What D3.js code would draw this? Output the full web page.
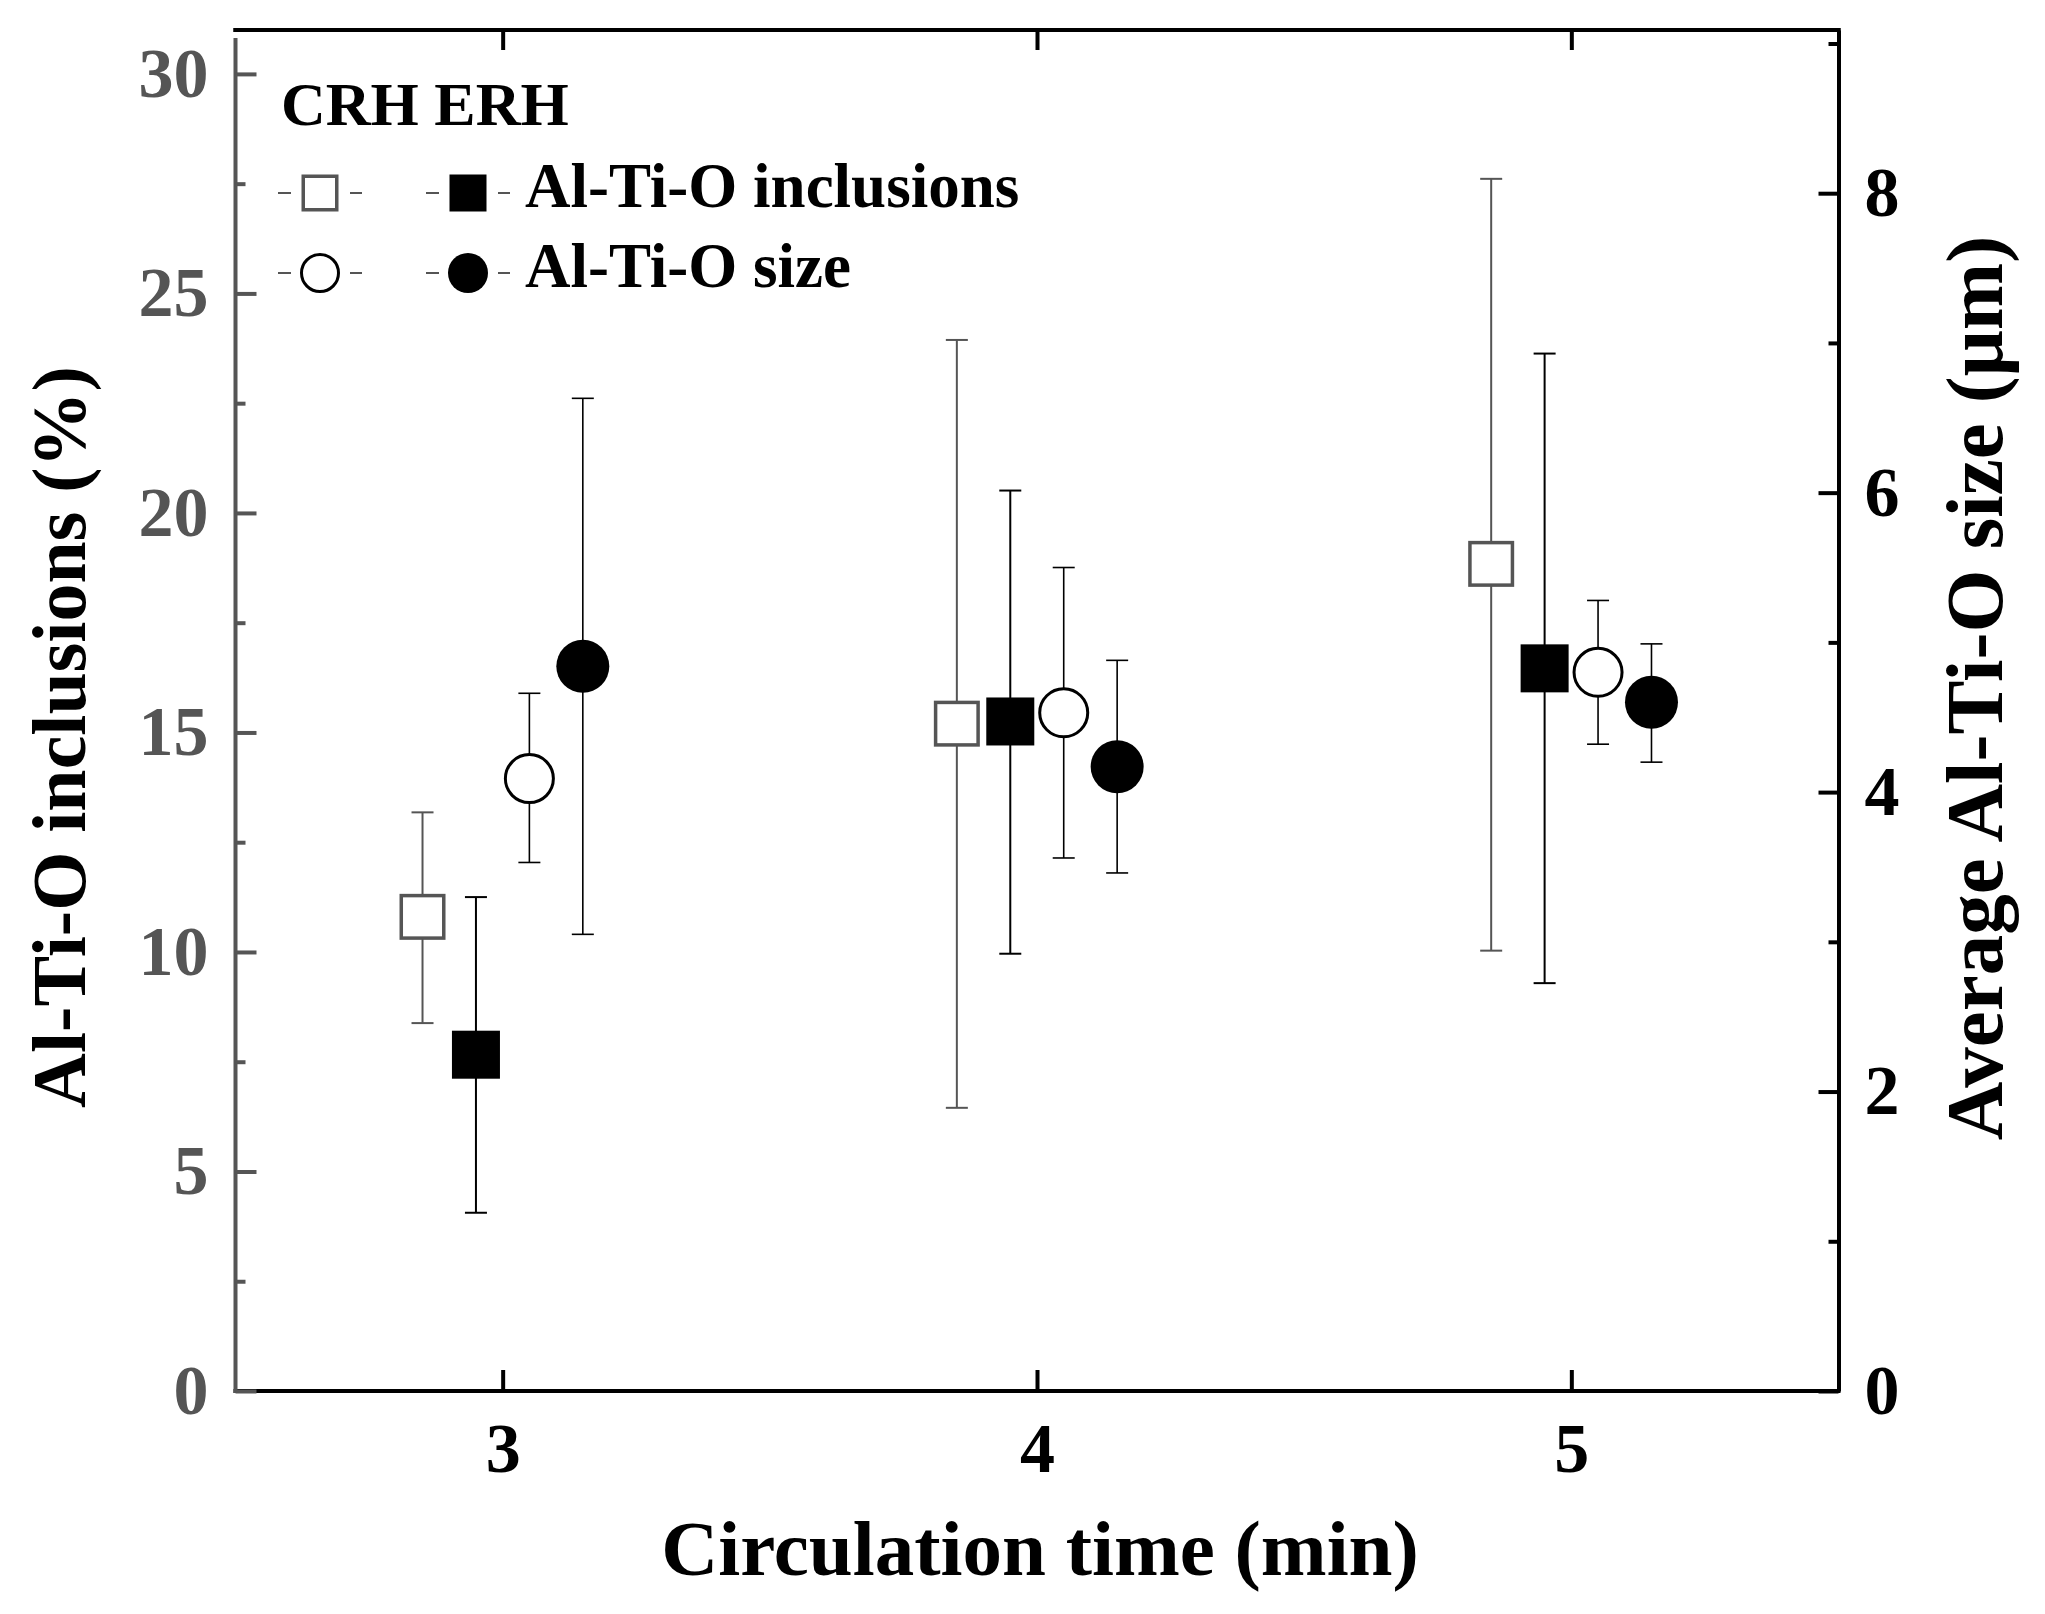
<!DOCTYPE html>
<html>
<head>
<meta charset="utf-8">
<script src="https://cdnjs.cloudflare.com/ajax/libs/d3/7.8.5/d3.min.js"></script>
<style>
  body { margin: 0; background: #fff; }
  text { font-family: "Liberation Serif", "Times New Roman", serif; font-weight: bold; }
</style>
</head>
<body>
<div id="chart"></div>
<script>
// Circulation time (min)
const times = [3, 4, 5];

// Al-Ti-O inclusions (%) - left axis
const crhIncl     = [10.80, 15.20, 18.84];
const crhInclLow  = [8.38, 6.45, 10.03];
const crhInclHigh = [13.18, 23.94, 27.61];
const erhIncl     = [7.66, 15.25, 16.46];
const erhInclLow  = [4.06, 9.96, 9.29];
const erhInclHigh = [11.25, 20.51, 23.63];

// Average Al-Ti-O size (um) - right axis
const crhSize     = [4.09, 4.53, 4.80];
const crhSizeLow  = [3.53, 3.56, 4.32];
const crhSizeHigh = [4.66, 5.50, 5.28];
const erhSize     = [4.84, 4.17, 4.60];
const erhSizeLow  = [3.05, 3.46, 4.20];
const erhSizeHigh = [6.63, 4.88, 4.99];

// Tick labels
const xTicks = [3, 4, 5];
const leftTicks = [0, 5, 10, 15, 20, 25, 30];
const leftMinor = [2.5, 7.5, 12.5, 17.5, 22.5, 27.5];
const rightTicks = [0, 2, 4, 6, 8];
const rightMinor = [1, 3, 5, 7, 9];

const W = 2045, H = 1614;
const margin = {top: 30, right: W - 1838.5, bottom: H - 1391, left: 235.5};
const width = W - margin.left - margin.right;
const height = H - margin.top - margin.bottom;
const GRAY = '#555';

const svg = d3.select('#chart').append('svg')
    .attr('width', W).attr('height', H)
    .attr('viewBox', `0 0 ${W} ${H}`);

const g = svg.append('g')
    .attr('transform', `translate(${margin.left},${margin.top})`);

// Scales
const x = d3.scaleLinear().domain([2.5, 5.5]).range([0, width]);
const yL = d3.scaleLinear().domain([0, 31]).range([height, 0]);
const yR = d3.scaleLinear().domain([0, 9.09]).range([height, 0]);

// Series setup (offsets keep the four markers side by side)
const series = [
    {val: crhIncl, lo: crhInclLow, hi: crhInclHigh, y: yL, off: -0.15, shape: 'square', fill: '#fff', stroke: GRAY, sw: 3.5, size: 46, err: GRAY, ew: 2},
    {val: erhIncl, lo: erhInclLow, hi: erhInclHigh, y: yL, off: -0.05, shape: 'square', fill: '#000', stroke: '#000', sw: 0, size: 48, err: '#000', ew: 2},
    {val: crhSize, lo: crhSizeLow, hi: crhSizeHigh, y: yR, off: 0.05, shape: 'circle', fill: '#fff', stroke: '#000', sw: 3, size: 51, err: '#000', ew: 1.6},
    {val: erhSize, lo: erhSizeLow, hi: erhSizeHigh, y: yR, off: 0.15, shape: 'circle', fill: '#000', stroke: '#000', sw: 0, size: 53, err: '#000', ew: 1.6},
];

function styleAxis(sel, color, fontSize) {
    sel.select('.domain').attr('stroke', color).attr('stroke-width', 4);
    sel.selectAll('.tick line').attr('stroke', color).attr('stroke-width', 4);
    sel.selectAll('.tick text')
        .attr('fill', color)
        .attr('font-size', fontSize)
        .attr('font-family', '"Liberation Serif", "Times New Roman", serif')
        .attr('font-weight', 'bold');
}

// Bottom axis
const xAxis = g.append('g').attr('transform', `translate(0,${height})`)
    .call(d3.axisBottom(x).tickValues(xTicks).tickSizeInner(-21).tickSizeOuter(0).tickPadding(31).tickFormat(d3.format('d')));
styleAxis(xAxis, '#000', 70);
xAxis.select('.domain').attr('d', `M-2,0H${width + 2}`);

// Top axis
const topAxis = g.append('g')
    .call(d3.axisTop(x).tickValues(xTicks).tickSizeInner(-20).tickSizeOuter(0).tickFormat(''));
styleAxis(topAxis, '#000', 0);
topAxis.select('.domain').attr('d', `M-2,0H${width + 2}`);

// Right axis
const rAxis = g.append('g').attr('transform', `translate(${width},0)`)
    .call(d3.axisRight(yR).tickValues(rightTicks).tickSizeInner(-20).tickSizeOuter(0).tickPadding(26).tickFormat(d3.format('d')));
styleAxis(rAxis, '#000', 70);
const rMinor = g.append('g').attr('transform', `translate(${width},0)`)
    .call(d3.axisRight(yR).tickValues(rightMinor).tickSizeInner(-10).tickSizeOuter(0).tickFormat(''));
styleAxis(rMinor, '#000', 0);
rMinor.select('.domain').remove();

// Left axis (gray)
const lAxis = g.append('g')
    .call(d3.axisLeft(yL).tickValues(leftTicks).tickSizeInner(-21).tickSizeOuter(0).tickPadding(27).tickFormat(d3.format('d')));
styleAxis(lAxis, GRAY, 70);
lAxis.select('.domain').attr('d', `M0,${yL(31) + 8}V${height + 2}`);
const lMinor = g.append('g')
    .call(d3.axisLeft(yL).tickValues(leftMinor).tickSizeInner(-10).tickSizeOuter(0).tickFormat(''));
styleAxis(lMinor, GRAY, 0);
lMinor.select('.domain').remove();

// Top frame line above the gray axis start
g.append('line').attr('x1', -2).attr('x2', width + 2).attr('y1', 0).attr('y2', 0)
    .attr('stroke', '#000').attr('stroke-width', 4);

// Error bars and markers
const cap = 11;
series.forEach(s => {
    const pts = times.map((t, i) => ({t, v: s.val[i], lo: s.lo[i], hi: s.hi[i]}));
    const eg = g.append('g');
    const cx = d => x(d.t + s.off);
    eg.selectAll('line.bar').data(pts).join('line')
        .attr('x1', cx).attr('x2', cx)
        .attr('y1', d => s.y(d.lo)).attr('y2', d => s.y(d.hi))
        .attr('stroke', s.err).attr('stroke-width', s.ew);
    ['lo', 'hi'].forEach(k => {
        eg.selectAll('line.cap-' + k).data(pts).join('line')
            .attr('x1', d => cx(d) - cap).attr('x2', d => cx(d) + cap)
            .attr('y1', d => s.y(d[k])).attr('y2', d => s.y(d[k]))
            .attr('stroke', s.err).attr('stroke-width', s.ew);
    });
    const half = s.size / 2;
    if (s.shape === 'square') {
        eg.selectAll('rect').data(pts).join('rect')
            .attr('x', d => cx(d) - half + s.sw / 2)
            .attr('y', d => s.y(d.v) - half + s.sw / 2)
            .attr('width', s.size - s.sw).attr('height', s.size - s.sw)
            .attr('fill', s.fill).attr('stroke', s.stroke).attr('stroke-width', s.sw);
    } else {
        eg.selectAll('circle').data(pts).join('circle')
            .attr('cx', cx).attr('cy', d => s.y(d.v))
            .attr('r', half - s.sw / 2)
            .attr('fill', s.fill).attr('stroke', s.stroke).attr('stroke-width', s.sw);
    }
});

// Legend
const leg = svg.append('g');
leg.append('text').attr('x', 281).attr('y', 125).attr('font-size', 62).text('CRH ERH');
const legRows = [
    {y: 193, label: 'Al-Ti-O inclusions', shape: 'square', open: series[0], filled: series[1]},
    {y: 273, label: 'Al-Ti-O size', shape: 'circle', open: series[2], filled: series[3]},
];
const legCols = [320, 468];
legRows.forEach(r => {
    [r.open, r.filled].forEach((s, j) => {
        const cx = legCols[j];
        [[-42, -29], [30, 42]].forEach(([a, b]) => {
            leg.append('line').attr('x1', cx + a).attr('x2', cx + b)
                .attr('y1', r.y).attr('y2', r.y)
                .attr('stroke', GRAY).attr('stroke-width', 2);
        });
        const sz = 37;
        if (r.shape === 'square') {
            leg.append('rect').attr('x', cx - sz / 2 + s.sw / 2).attr('y', r.y - sz / 2 + s.sw / 2)
                .attr('width', sz - s.sw).attr('height', sz - s.sw)
                .attr('fill', s.fill).attr('stroke', s.stroke).attr('stroke-width', s.sw);
        } else {
            leg.append('circle').attr('cx', cx).attr('cy', r.y).attr('r', 20 - s.sw / 2)
                .attr('fill', s.fill).attr('stroke', s.stroke).attr('stroke-width', s.sw);
        }
    });
    leg.append('text').attr('x', 525).attr('y', r.y + 14).attr('font-size', 63).text(r.label);
});

// Axis titles
svg.append('text')
    .attr('x', margin.left + width / 2 + 3).attr('y', 1575)
    .attr('text-anchor', 'middle').attr('font-size', 79)
    .text('Circulation time (min)');

svg.append('text')
    .attr('transform', 'translate(85,737) rotate(-90)')
    .attr('text-anchor', 'middle').attr('font-size', 76)
    .text('Al-Ti-O inclusions (%)');

svg.append('text')
    .attr('transform', 'translate(2002,688) rotate(-90)')
    .attr('text-anchor', 'middle').attr('font-size', 81)
    .text('Average Al-Ti-O size (μm)');
</script>
</body>
</html>
